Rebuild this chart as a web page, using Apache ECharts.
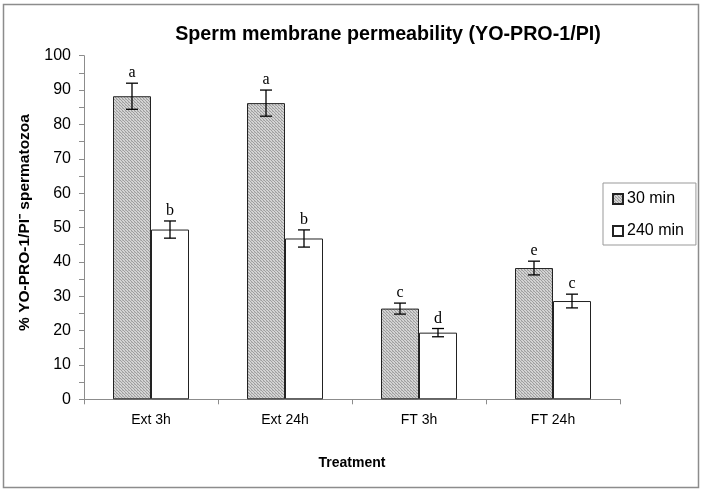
<!DOCTYPE html>
<html><head><meta charset="utf-8">
<script src="https://cdn.jsdelivr.net/npm/echarts@6/dist/echarts.min.js"></script>
<style>html,body{margin:0;padding:0;background:#fff}#c{width:703px;height:492px}</style>
</head><body><div id="c"></div>
<script>
var categories = ['Ext 3h', 'Ext 24h', 'FT 3h', 'FT 24h'];
var seriesNames = ['30 min', '240 min'];
var values30 = [88.2, 86.2, 26.4, 38.2];
var values240 = [49.4, 46.8, 19.4, 28.6];
var err30 = [3.8, 3.8, 1.6, 2.0];
var err240 = [2.5, 2.5, 1.2, 2.0];
var letters30 = ['a', 'a', 'c', 'e'];
var letters240 = ['b', 'b', 'd', 'c'];
var yTicks = [0, 100, 10];

var pc = document.createElement('canvas');
pc.width = 3; pc.height = 3;
var pctx = pc.getContext('2d');
pctx.fillStyle = '#d4d4d4'; pctx.fillRect(0,0,3,3);
pctx.fillStyle = '#9e9e9e'; pctx.fillRect(0,0,1,1); pctx.fillRect(1,1,1,1); pctx.fillRect(2,2,1,1);
pctx.fillStyle = '#b8b8b8'; pctx.fillRect(2,0,1,1);
var pattern = {image: pc, repeat: 'repeat'};

var BW = 38;
function errSeries(vals, errs, lets, off) {
  var data = vals.map(function(v, i){ return [i, v, errs[i], lets[i]]; });
  return {
    type: 'custom', silent: true, z: 5,
    data: data,
    renderItem: function(params, api) {
      var i = api.value(0), v = api.value(1), e = api.value(2);
      var top = api.coord([i, v + e]);
      var bot = api.coord([i, v - e]);
      var x = top[0] + off;
      var st = {stroke: '#000', lineWidth: 1.3};
      return {type: 'group', children: [
        {type: 'line', shape: {x1: x, y1: top[1], x2: x, y2: bot[1]}, style: st},
        {type: 'line', shape: {x1: x - 6, y1: top[1], x2: x + 6, y2: top[1]}, style: st},
        {type: 'line', shape: {x1: x - 6, y1: bot[1], x2: x + 6, y2: bot[1]}, style: st},
        {type: 'text', style: {text: data[params.dataIndex][3], x: x, y: top[1] - 2, align: 'center', verticalAlign: 'bottom', font: '16px "Liberation Serif", serif', fill: '#000'}}
      ]};
    }
  };
}

var chart = echarts.init(document.getElementById('c'), null, {renderer: 'canvas'});
chart.setOption({
  animation: false,
  backgroundColor: '#fff',
  title: {text: 'Sperm membrane permeability (YO-PRO-1/PI)', left: 383, textAlign: 'center', top: 20,
    textStyle: {fontFamily: 'Liberation Sans, Arial', fontWeight: 'bold', fontSize: 19.7, color: '#000'}},
  graphic: [{type: 'rect', shape: {x: 3.5, y: 4.5, width: 695, height: 483}, style: {fill: 'none', stroke: '#8c8c8c', lineWidth: 1.5}, silent: true}],
  legend: {
    data: seriesNames, orient: 'vertical', left: 603, top: 183,
    width: 93, borderColor: '#999', borderWidth: 1, padding: [8, 12, 6, 9],
    itemWidth: 10, itemHeight: 10, itemGap: 16, icon: 'rect',
    textStyle: {fontFamily: 'Liberation Sans, Arial', fontSize: 16, color: '#000', padding: [0, 0, 0, -1]}
  },
  grid: {left: 84, right: 83, top: 55.7, bottom: 92.7, containLabel: false},
  xAxis: {
    type: 'category', data: categories, name: 'Treatment', nameLocation: 'middle', nameGap: 57,
    nameTextStyle: {fontFamily: 'Liberation Sans, Arial', fontWeight: 'bold', fontSize: 14, color: '#000'},
    axisLine: {lineStyle: {color: '#8c8c8c', width: 1}},
    axisTick: {show: true, length: 5, lineStyle: {color: '#8c8c8c'}},
    axisLabel: {fontFamily: 'Liberation Sans, Arial', fontSize: 14, color: '#000', margin: 14}
  },
  yAxis: {
    type: 'value', min: yTicks[0], max: yTicks[1], interval: yTicks[2],
    name: '% YO-PRO-1/PI\u207B spermatozoa', nameLocation: 'middle', nameGap: 51, nameRotate: 90,
    nameTextStyle: {fontFamily: 'Liberation Sans, Arial', fontWeight: 'bold', fontSize: 15.5, color: '#000', padding: [0, 0, 0, 10]},
    axisLine: {show: true, lineStyle: {color: '#8c8c8c', width: 1}},
    axisTick: {show: true, length: 5, lineStyle: {color: '#8c8c8c'}},
    minorTick: {show: true, splitNumber: 2, length: 5, lineStyle: {color: '#8c8c8c'}},
    splitLine: {show: false},
    axisLabel: {fontFamily: 'Liberation Sans, Arial', fontSize: 16, color: '#000', margin: 13}
  },
  series: [
    {name: seriesNames[0], type: 'bar', data: values30, barWidth: BW, barGap: '0%',
      itemStyle: {color: pattern, borderColor: '#222', borderWidth: 1}},
    {name: seriesNames[1], type: 'bar', data: values240, barWidth: BW, barGap: '0%',
      itemStyle: {color: '#fff', borderColor: '#222', borderWidth: 1}},
    errSeries(values30, err30, letters30, -BW / 2),
    errSeries(values240, err240, letters240, BW / 2)
  ]
});
</script></body></html>
